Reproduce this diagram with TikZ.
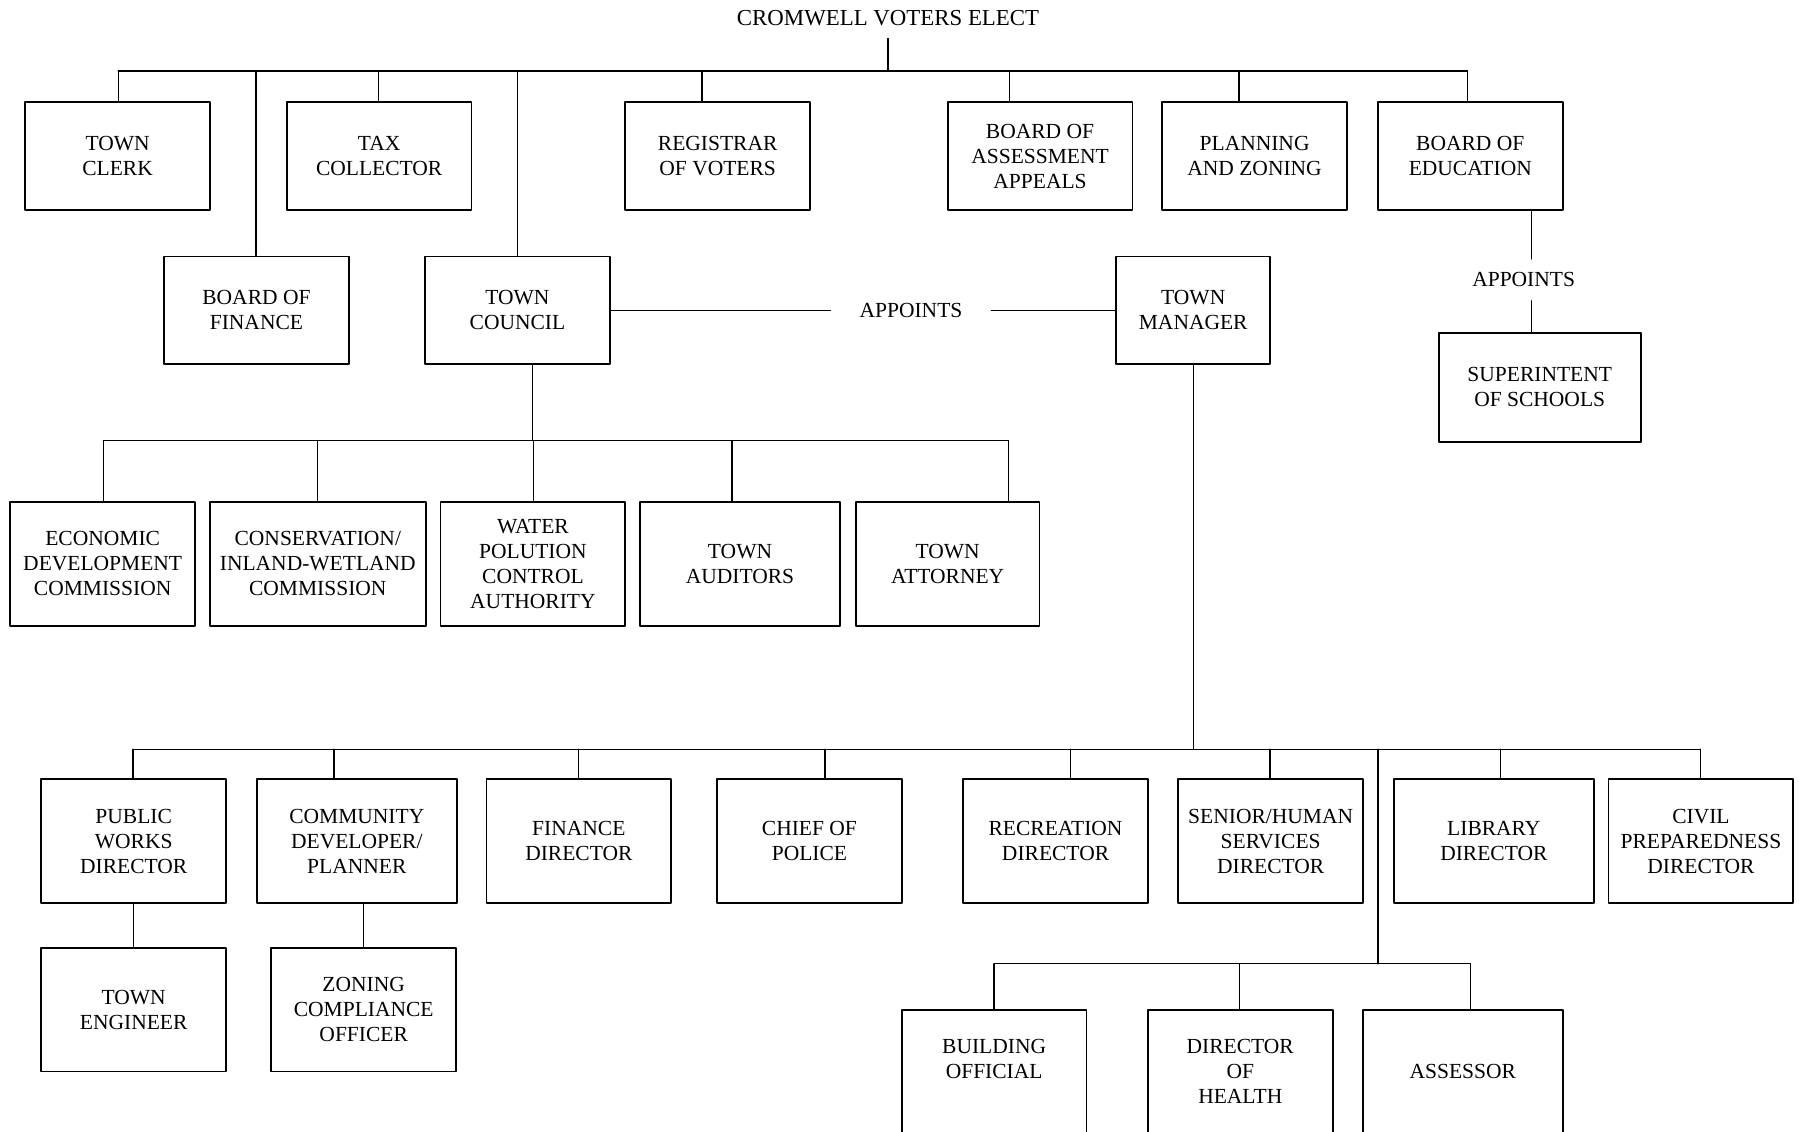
\documentclass[tikz,border=0pt]{standalone}
\usepackage{fontspec}
\setmainfont{Liberation Serif}
\usepackage{tikz}
\usetikzlibrary{calc}

\begin{document}
\begin{tikzpicture}[x=0.03cm, y=-0.03cm, line cap=round, line join=round,
    every node/.style={font=\fontsize{16}{18.6}\selectfont},
    office/.style={draw, line width=1.3pt, inner sep=0pt, align=center,
                   minimum width=4.83cm, minimum height=2.82cm},
    wide/.style={minimum width=5.22cm},
    tall/.style={minimum height=3.24cm},
    link/.style={line width=1pt},
    appoints/.style={inner xsep=0.75cm, inner ysep=0.35cm}]
            % page
            \useasboundingbox (0,0) rectangle (1568,986);
            \clip (0,0) rectangle (1568,986);

            % voters
            \node (voters) at (774,16) [font=\fontsize{17}{19}\selectfont] {CROMWELL VOTERS ELECT};
            \coordinate (top) at (774,62);
            \draw[link, shorten <=0.2cm] (voters.south) -- (top);

            % elected offices
            \node[office] (clerk) at (102.5,136) {TOWN\\CLERK};
            \node[office] (taxcol) at (330.5,136) {TAX\\COLLECTOR};
            \node[office] (registrar) at (625.5,136) {REGISTRAR\\OF VOTERS};
            \node[office] (assess) at (906.5,136) {BOARD OF\\ASSESSMENT\\APPEALS};
            \node[office] (planning) at (1093.5,136) {PLANNING\\AND ZONING};
            \node[office] (education) at (1281.5,136) {BOARD OF\\EDUCATION};
            \node[office] (bfin) at (223.5,270.5) {BOARD OF\\FINANCE};
            \node[office] (council) at (451,270.5) {TOWN\\COUNCIL};

            % voters bus
            \coordinate (t1) at (103,62);
            \coordinate (t2) at (223,62);
            \coordinate (t3) at (330,62);
            \coordinate (t4) at (451,62);
            \coordinate (t5) at (612,62);
            \coordinate (t6) at (880,62);
            \coordinate (t7) at (1080,62);
            \coordinate (t8) at (1279,62);
            \draw[link] (t1) -- (t8);
            \draw[link] (t1) -- (t1 |- clerk.north);
            \draw[link] (t2) -- (t2 |- bfin.north);
            \draw[link] (t3) -- (t3 |- taxcol.north);
            \draw[link] (t4) -- (t4 |- council.north);
            \draw[link] (t5) -- (t5 |- registrar.north);
            \draw[link] (t6) -- (t6 |- assess.north);
            \draw[link] (t7) -- (t7 |- planning.north);
            \draw[link] (t8) -- (t8 |- education.north);

            % council appoints manager
            \node[office, minimum width=4.02cm] (manager) at (1040,270.5) {TOWN\\MANAGER};
            \node[appoints] (appoint1) at (794,270.5) {APPOINTS};
            \draw[link] (council.east) -- (appoint1.west);
            \draw[link] (appoint1.east) -- (manager.west);

            % education appoints superintendent
            \node[appoints] (appoint2) at (1328,244) {APPOINTS};
            \node[office, minimum width=5.28cm, minimum height=2.85cm] (superint) at (1342,337.5) {SUPERINTENT\\OF SCHOOLS};
            \coordinate (e1) at (1335,0);
            \draw[link] (e1 |- education.south) -- (e1 |- appoint2.north);
            \draw[link] (e1 |- appoint2.south) -- (e1 |- superint.north);

            % council commissions
            \node[office, tall] (econ) at (89.5,491.5) {ECONOMIC\\DEVELOPMENT\\COMMISSION};
            \node[office, tall, minimum width=5.64cm] (cons) at (277,491.5) {CONSERVATION/\\INLAND-WETLAND\\COMMISSION};
            \node[office, tall] (water) at (464.5,491.5) {WATER\\POLUTION\\CONTROL\\AUTHORITY};
            \node[office, tall, wide] (auditors) at (645,491.5) {TOWN\\AUDITORS};
            \node[office, tall, minimum width=4.8cm] (attorney) at (826,491.5) {TOWN\\ATTORNEY};

            \coordinate (cj) at (464,384);
            \coordinate (c1) at (90,384);
            \coordinate (c2) at (277,384);
            \coordinate (c3) at (465,384);
            \coordinate (c4) at (638,384);
            \coordinate (c5) at (879,384);
            \draw[link] (cj |- council.south) -- (cj);
            \draw[link] (c1) -- (c5);
            \draw[link] (c1) -- (c1 |- econ.north);
            \draw[link] (c2) -- (c2 |- cons.north);
            \draw[link] (c3) -- (c3 |- water.north);
            \draw[link] (c4) -- (c4 |- auditors.north);
            \draw[link] (c5) -- (c5 |- attorney.north);

            % manager departments
            \node[office, tall] (works) at (116.5,733) {PUBLIC\\WORKS\\DIRECTOR};
            \node[office, tall, wide] (community) at (311,733) {COMMUNITY\\DEVELOPER/\\PLANNER};
            \node[office, tall] (findir) at (504.5,733) {FINANCE\\DIRECTOR};
            \node[office, tall] (police) at (705.5,733) {CHIEF OF\\POLICE};
            \node[office, tall] (recreation) at (920,733) {RECREATION\\DIRECTOR};
            \node[office, tall] (senior) at (1107.5,733) {SENIOR/HUMAN\\SERVICES\\DIRECTOR};
            \node[office, tall, wide] (library) at (1302,733) {LIBRARY\\DIRECTOR};
            \node[office, tall] (civil) at (1482.5,733) {CIVIL\\PREPAREDNESS\\DIRECTOR};

            \coordinate (m1) at (116,653);
            \coordinate (m2) at (291,653);
            \coordinate (m3) at (504,653);
            \coordinate (m4) at (719,653);
            \coordinate (m5) at (933,653);
            \coordinate (m6) at (1107,653);
            \coordinate (m7) at (1201,653);
            \coordinate (m8) at (1308,653);
            \coordinate (m9) at (1482,653);
            \draw[link] (manager.south) -- (manager.south |- m1);
            \draw[link] (m1) -- (m9);
            \draw[link] (m1) -- (m1 |- works.north);
            \draw[link] (m2) -- (m2 |- community.north);
            \draw[link] (m3) -- (m3 |- findir.north);
            \draw[link] (m4) -- (m4 |- police.north);
            \draw[link] (m5) -- (m5 |- recreation.north);
            \draw[link] (m6) -- (m6 |- senior.north);
            \draw[link] (m8) -- (m8 |- library.north);
            \draw[link] (m9) -- (m9 |- civil.north);

            % under works and community
            \node[office, tall] (engineer) at (116.5,880) {TOWN\\ENGINEER};
            \node[office, tall] (zoning) at (317,880) {ZONING\\COMPLIANCE\\OFFICER};
            \draw[link] (works.south) -- (engineer.north);
            \draw[link] (zoning.north |- community.south) -- (zoning.north);

            % building, health, assessor
            \node[office, tall] (building) at (866.5,934) {BUILDING\\OFFICIAL\\\mbox{}};
            \node[office, tall] (health) at (1081,934) {DIRECTOR\\OF\\HEALTH};
            \node[office, tall, wide] (assessor) at (1275,934) {ASSESSOR};

            \coordinate (l1) at (866.5,840);
            \coordinate (l2) at (1080.5,840);
            \coordinate (l3) at (1281.5,840);
            \draw[link] (m7) -- (m7 |- l1);
            \draw[link] (l1) -- (l3);
            \draw[link] (l1) -- (l1 |- building.north);
            \draw[link] (l2) -- (l2 |- health.north);
            \draw[link] (l3) -- (l3 |- assessor.north);
        \end{tikzpicture}
\end{document}
